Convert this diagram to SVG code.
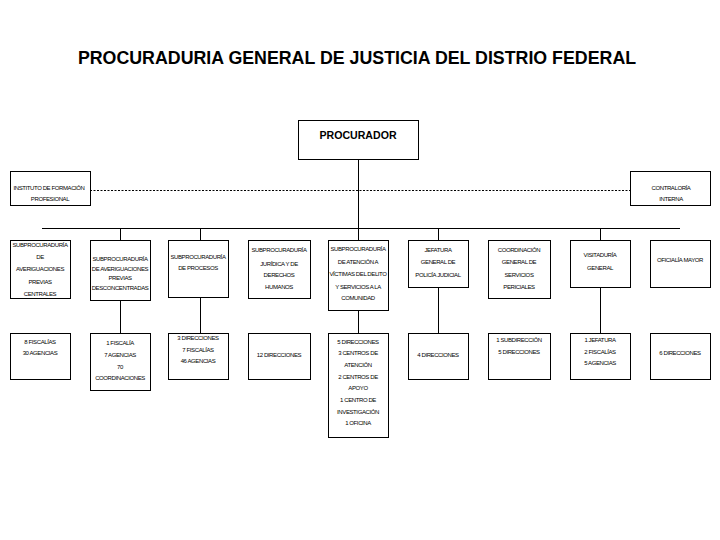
<svg xmlns="http://www.w3.org/2000/svg" width="720" height="540" viewBox="0 0 720 540">
<style>
.box{fill:#fff;stroke:#000;stroke-width:1}
.ln{stroke:#000;stroke-width:1;fill:none}
.t{font-family:"Liberation Sans",Arial,sans-serif;font-size:6px;letter-spacing:-0.4px;text-anchor:middle;fill:#000}
.title{font-family:"Liberation Sans",Arial,sans-serif;font-size:17.8px;font-weight:bold;text-anchor:middle;fill:#000}
.head{font-family:"Liberation Sans",Arial,sans-serif;font-size:10.6px;font-weight:bold;text-anchor:middle;fill:#000}
</style>
<rect width="720" height="540" fill="#fff"/>
<text class="title" x="357" y="64">PROCURADURIA GENERAL DE JUSTICIA DEL DISTRIO FEDERAL</text>
<g id="connectors">
<line class="ln" x1="358.5" y1="159" x2="358.5" y2="228"/>
<line class="ln" x1="90" y1="190.5" x2="630" y2="190.5" stroke-dasharray="2,1.5"/>
<line class="ln" x1="42" y1="228.5" x2="680" y2="228.5"/>
<line class="ln" x1="120.5" y1="228" x2="120.5" y2="240"/>
<line class="ln" x1="200.5" y1="228" x2="200.5" y2="240"/>
<line class="ln" x1="358.5" y1="228" x2="358.5" y2="240"/>
<line class="ln" x1="438.5" y1="228" x2="438.5" y2="240"/>
<line class="ln" x1="600.5" y1="228" x2="600.5" y2="240"/>
<line class="ln" x1="120.5" y1="300" x2="120.5" y2="333"/>
<line class="ln" x1="200.5" y1="297" x2="200.5" y2="333"/>
<line class="ln" x1="358.5" y1="310" x2="358.5" y2="333"/>
<line class="ln" x1="438.5" y1="287" x2="438.5" y2="333"/>
<line class="ln" x1="600.5" y1="287" x2="600.5" y2="333"/>
</g>
<g id="procurador"><rect class="box" x="298.5" y="120.5" width="120" height="39"/><text class="head" x="358" y="139">PROCURADOR</text></g>
<g id="instituto"><rect class="box" x="10.5" y="171.5" width="80" height="34"/><text class="t" x="49" y="190">INSTITUTO DE FORMACIÓN</text><text class="t" x="50" y="201">PROFESIONAL</text></g>
<g id="contraloria"><rect class="box" x="630.5" y="171.5" width="80" height="34"/><text class="t" x="671" y="190">CONTRALORÍA</text><text class="t" x="671" y="201">INTERNA</text></g>

<g id="sub-ap-centrales"><rect class="box" x="10.5" y="240.5" width="60" height="58"/>
<text class="t" x="40" y="247">SUBPROCURADURÍA</text><text class="t" x="40" y="259">DE</text><text class="t" x="40" y="271">AVERIGUACIONES</text><text class="t" x="40" y="284">PREVIAS</text><text class="t" x="40" y="296">CENTRALES</text></g>
<g id="sub-ap-desconcentradas"><rect class="box" x="90.5" y="240.5" width="60" height="60"/>
<text class="t" x="120" y="261">SUBPROCURADURÍA</text><text class="t" x="120" y="271">DE AVERIGUACIONES</text><text class="t" x="120" y="280">PREVIAS</text><text class="t" x="120" y="290">DESCONCENTRADAS</text></g>
<g id="sub-procesos"><rect class="box" x="168.5" y="240.5" width="60" height="57"/>
<text class="t" x="198" y="259">SUBPROCURADURÍA</text><text class="t" x="198" y="270">DE PROCESOS</text></g>
<g id="sub-juridica"><rect class="box" x="248.5" y="240.5" width="62" height="58"/>
<text class="t" x="279" y="252">SUBPROCURADURÍA</text><text class="t" x="279" y="266">JURÍDICA Y DE</text><text class="t" x="279" y="277">DERECHOS</text><text class="t" x="279" y="289">HUMANOS</text></g>
<g id="sub-victimas"><rect class="box" x="328.5" y="240.5" width="60" height="70"/>
<text class="t" x="358" y="251">SUBPROCURADURÍA</text><text class="t" x="358" y="264">DE ATENCIÓN A</text><text class="t" x="358" y="276">VÍCTIMAS DEL DELITO</text><text class="t" x="358" y="289">Y SERVICIOS A LA</text><text class="t" x="358" y="300">COMUNIDAD</text></g>
<g id="jefatura-policia"><rect class="box" x="408.5" y="240.5" width="60" height="47"/>
<text class="t" x="438" y="252">JEFATURA</text><text class="t" x="438" y="264">GENERAL DE</text><text class="t" x="438" y="277">POLICÍA JUDICIAL</text></g>
<g id="coordinacion-periciales"><rect class="box" x="488.5" y="240.5" width="62" height="58"/>
<text class="t" x="519" y="252">COORDINACIÓN</text><text class="t" x="519" y="264">GENERAL DE</text><text class="t" x="519" y="277">SERVICIOS</text><text class="t" x="519" y="289">PERICIALES</text></g>
<g id="visitaduria"><rect class="box" x="570.5" y="240.5" width="60" height="47"/>
<text class="t" x="600" y="257">VISITADURÍA</text><text class="t" x="600" y="270">GENERAL</text></g>
<g id="oficialia"><rect class="box" x="650.5" y="240.5" width="60" height="47"/>
<text class="t" x="680" y="262">OFICIALÍA MAYOR</text></g>

<g id="r3-centrales"><rect class="box" x="10.5" y="333.5" width="60" height="46"/>
<text class="t" x="40" y="344">8 FISCALÍAS</text><text class="t" x="40" y="355">30 AGENCIAS</text></g>
<g id="r3-desconcentradas"><rect class="box" x="90.5" y="333.5" width="60" height="57"/>
<text class="t" x="120" y="345">1 FISCALÍA</text><text class="t" x="120" y="357">7 AGENCIAS</text><text class="t" x="120" y="369">70</text><text class="t" x="120" y="380">COORDINACIONES</text></g>
<g id="r3-procesos"><rect class="box" x="168.5" y="333.5" width="60" height="46"/>
<text class="t" x="198" y="340">3 DIRECCIONES</text><text class="t" x="198" y="352">7 FISCALÍAS</text><text class="t" x="198" y="363">46 AGENCIAS</text></g>
<g id="r3-juridica"><rect class="box" x="248.5" y="333.5" width="62" height="46"/>
<text class="t" x="279" y="357">12 DIRECCIONES</text></g>
<g id="r3-victimas"><rect class="box" x="328.5" y="333.5" width="60" height="104"/>
<text class="t" x="358" y="344">5 DIRECCIONES</text><text class="t" x="358" y="355">3 CENTROS DE</text><text class="t" x="358" y="367">ATENCIÓN</text><text class="t" x="358" y="379">2 CENTROS DE</text><text class="t" x="358" y="390">APOYO</text><text class="t" x="358" y="402">1 CENTRO DE</text><text class="t" x="358" y="414">INVESTIGACIÓN</text><text class="t" x="358" y="425">1 OFICINA</text></g>
<g id="r3-policia"><rect class="box" x="408.5" y="333.5" width="60" height="46"/>
<text class="t" x="438" y="357">4 DIRECCIONES</text></g>
<g id="r3-periciales"><rect class="box" x="488.5" y="333.5" width="62" height="46"/>
<text class="t" x="519" y="342">1 SUBDIRECCIÓN</text><text class="t" x="519" y="354">5 DIRECCIONES</text></g>
<g id="r3-visitaduria"><rect class="box" x="570.5" y="333.5" width="60" height="46"/>
<text class="t" x="600" y="342">1 JEFATURA</text><text class="t" x="600" y="354">2 FISCALÍAS</text><text class="t" x="600" y="365">5 AGENCIAS</text></g>
<g id="r3-oficialia"><rect class="box" x="650.5" y="333.5" width="60" height="46"/>
<text class="t" x="680" y="355">6 DIRECCIONES</text></g>
</svg>
